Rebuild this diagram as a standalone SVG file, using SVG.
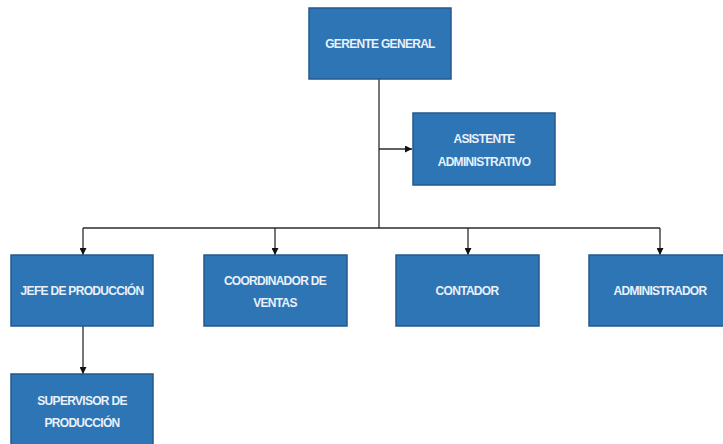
<svg xmlns="http://www.w3.org/2000/svg" width="723" height="444" viewBox="0 0 723 444">
  <style>
    .box { fill: #2E75B6; stroke: #24588A; stroke-width: 1.5; }
    .lbl { fill: #E9F0F8; font-family: "Liberation Sans", Arial, sans-serif; font-size: 12px; font-weight: bold; text-anchor: middle; letter-spacing: -0.7px; }
    .wire { fill: none; stroke: #2B2B2B; stroke-width: 1.3; }
  </style>
  <defs>
    <marker id="arrow" viewBox="0 0 10 10" refX="10" refY="5" markerWidth="7" markerHeight="7" markerUnits="userSpaceOnUse" orient="auto">
      <path d="M0,0 L10,5 L0,10 Z" fill="#111"/>
    </marker>
  </defs>
  <rect width="723" height="444" fill="#ffffff"/>

  <g id="connectors">
    <path class="wire" d="M379,79 V228"/>
    <path class="wire" d="M379,149 H412" marker-end="url(#arrow)"/>
    <path class="wire" d="M83,228 H660"/>
    <path class="wire" d="M83,228 V255" marker-end="url(#arrow)"/>
    <path class="wire" d="M275,228 V255" marker-end="url(#arrow)"/>
    <path class="wire" d="M468,228 V255" marker-end="url(#arrow)"/>
    <path class="wire" d="M660,228 V255" marker-end="url(#arrow)"/>
    <path class="wire" d="M83,326 V374" marker-end="url(#arrow)"/>
  </g>

  <g id="gerente-general">
    <rect class="box" x="309" y="8" width="142" height="71"/>
    <text class="lbl" x="380" y="47.5">GERENTE GENERAL</text>
  </g>
  <g id="asistente-administrativo">
    <rect class="box" x="413" y="113" width="142" height="72"/>
    <text class="lbl" x="484" y="142.5">ASISTENTE</text>
    <text class="lbl" x="484" y="165.5">ADMINISTRATIVO</text>
  </g>
  <g id="jefe-produccion">
    <rect class="box" x="11" y="255" width="142" height="71"/>
    <text class="lbl" x="82" y="294.5">JEFE DE PRODUCCIÓN</text>
  </g>
  <g id="coordinador-ventas">
    <rect class="box" x="204" y="255" width="143" height="71"/>
    <text class="lbl" x="275" y="284.5">COORDINADOR DE</text>
    <text class="lbl" x="275" y="306.5">VENTAS</text>
  </g>
  <g id="contador">
    <rect class="box" x="396" y="255" width="143" height="71"/>
    <text class="lbl" x="467" y="294.5">CONTADOR</text>
  </g>
  <g id="administrador">
    <rect class="box" x="589" y="255" width="143" height="71"/>
    <text class="lbl" x="660" y="294.5">ADMINISTRADOR</text>
  </g>
  <g id="supervisor-produccion">
    <rect class="box" x="11" y="374" width="142" height="72"/>
    <text class="lbl" x="82" y="404.5">SUPERVISOR DE</text>
    <text class="lbl" x="82" y="426.5">PRODUCCIÓN</text>
  </g>
</svg>
